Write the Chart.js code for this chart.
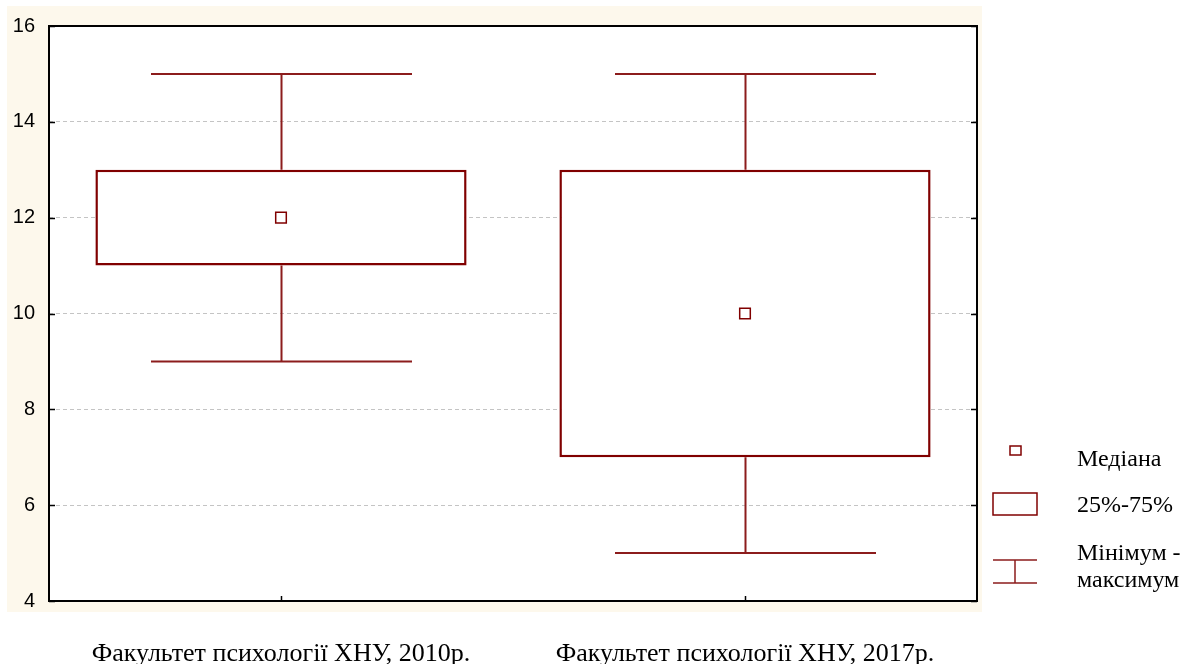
<!DOCTYPE html>
<html>
<head>
<meta charset="utf-8">
<script src="https://cdn.jsdelivr.net/npm/chart.js@4/dist/chart.umd.min.js"></script>
<style>
  html, body { margin: 0; padding: 0; background: #fff; }
  #wrap { width: 1200px; height: 664px; }
</style>
</head>
<body>
<div id="wrap"><canvas id="box"></canvas></div>
<script>
// data
const categories = ['Факультет психології ХНУ, 2010р.', 'Факультет психології ХНУ, 2017р.'];
const medians = [12, 10];
const q1 = [11, 7];
const q3 = [13, 13];
const mins = [9, 5];
const maxs = [15, 15];
const yTicks = [4, 6, 8, 10, 12, 14, 16];
const legendLabels = ['Медіана', '25%-75%', 'Мінімум -', 'максимум'];

const boxColor = '#800000';
const whiskerColor = '#8c1c1c';
const capRatio = 0.5625;
const serif = "'Liberation Serif', 'Times New Roman', serif";

const frame = {
  id: 'frame',
  beforeDraw(chart) {
    const c = chart.ctx, a = chart.chartArea;
    c.save();
    c.fillStyle = '#fdf8ec';
    c.fillRect(7, 6, a.right + 5 - 7, a.bottom + 11 - 6);
    c.fillStyle = '#fff';
    c.fillRect(a.left, a.top, a.right - a.left, a.bottom - a.top);
    c.restore();
  },
  beforeDatasetsDraw(chart) {
    // whiskers behind the boxes
    const c = chart.ctx, x = chart.scales.x, y = chart.scales.y;
    const half = x.width / categories.length * capRatio / 2;
    c.save();
    c.strokeStyle = whiskerColor;
    c.lineWidth = 2;
    categories.forEach((cat, i) => {
      const px = Math.round(x.getPixelForValue(i)) + 0.5;
      const yMax = y.getPixelForValue(maxs[i]), yMin = y.getPixelForValue(mins[i]);
      c.beginPath();
      c.moveTo(px, yMax); c.lineTo(px, y.getPixelForValue(q3[i]));
      c.moveTo(px, y.getPixelForValue(q1[i])); c.lineTo(px, yMin);
      c.moveTo(px - half, yMax); c.lineTo(px + half, yMax);
      c.moveTo(px - half, yMin); c.lineTo(px + half, yMin);
      c.stroke();
    });
    c.restore();
  },
  afterDraw(chart) {
    const c = chart.ctx, a = chart.chartArea, x = chart.scales.x, y = chart.scales.y;
    c.save();
    // plot frame
    c.strokeStyle = '#000';
    c.lineWidth = 2;
    c.strokeRect(a.left, a.top, a.right - a.left, a.bottom - a.top);
    // inside ticks
    c.lineWidth = 1.5;
    c.beginPath();
    yTicks.forEach(v => {
      const py = Math.round(y.getPixelForValue(v)) + 0.5;
      c.moveTo(a.left, py); c.lineTo(a.left + 6, py);
      c.moveTo(a.right, py); c.lineTo(a.right - 6, py);
    });
    categories.forEach((cat, i) => {
      const px = Math.round(x.getPixelForValue(i)) + 0.5;
      c.moveTo(px, a.bottom); c.lineTo(px, a.bottom - 5);
    });
    c.stroke();

    // legend
    const lx = a.right + 16, cx = lx + 22;
    c.strokeStyle = boxColor;
    c.lineWidth = 1.5;
    c.fillStyle = '#fff';
    c.fillRect(cx - 5, 446, 11, 9);
    c.strokeRect(cx - 5, 446, 11, 9);
    c.strokeRect(lx, 493, 44, 22);
    c.strokeStyle = whiskerColor;
    c.beginPath();
    c.moveTo(lx, 560); c.lineTo(lx + 44, 560);
    c.moveTo(lx, 583); c.lineTo(lx + 44, 583);
    c.moveTo(cx, 560); c.lineTo(cx, 583);
    c.stroke();

    c.fillStyle = '#000';
    c.font = '24px ' + serif;
    c.textBaseline = 'alphabetic';
    c.textAlign = 'left';
    const tx = a.right + 100;
    c.fillText(legendLabels[0], tx, 466);
    c.fillText(legendLabels[1], tx, 512);
    c.fillText(legendLabels[2], tx, 560);
    c.fillText(legendLabels[3], tx, 587);
    c.restore();
  }
};

new Chart(document.getElementById('box').getContext('2d'), {
  data: {
    labels: categories,
    datasets: [
      {
        type: 'line',
        label: 'Медіана',
        data: medians,
        showLine: false,
        pointStyle: 'rect',
        pointRadius: 7.5,
        pointBorderWidth: 1.5,
        pointBorderColor: boxColor,
        pointBackgroundColor: '#fff',
        order: 0
      },
      {
        type: 'bar',
        label: '25%-75%',
        data: q1.map((v, i) => [v, q3[i]]),
        backgroundColor: '#fff',
        borderColor: boxColor,
        borderWidth: 2.5,
        borderSkipped: false,
        barPercentage: 0.8,
        categoryPercentage: 1,
        order: 1
      }
    ]
  },
  options: {
    responsive: true,
    maintainAspectRatio: false,
    animation: false,
    layout: { padding: { top: 21, right: 223, left: 0, bottom: 0 } },
    plugins: {
      legend: { display: false },
      tooltip: { enabled: false }
    },
    scales: {
      x: {
        offset: true,
        grid: { display: false, drawTicks: false },
        border: { display: false },
        ticks: {
          padding: 38,
          color: '#000',
          font: { family: serif, size: 26 }
        },
        afterFit: s => { s.height = 63; }
      },
      y: {
        min: 4,
        max: 16,
        grid: { color: '#c4c4c4', lineWidth: 1, drawTicks: false },
        border: { display: false, dash: [4, 3] },
        ticks: {
          stepSize: 2,
          padding: 14,
          color: '#000',
          font: { family: "'Liberation Sans', Arial, sans-serif", size: 20 }
        },
        afterFit: s => { s.width = 49; }
      }
    }
  },
  plugins: [frame]
});
</script>
</body>
</html>
